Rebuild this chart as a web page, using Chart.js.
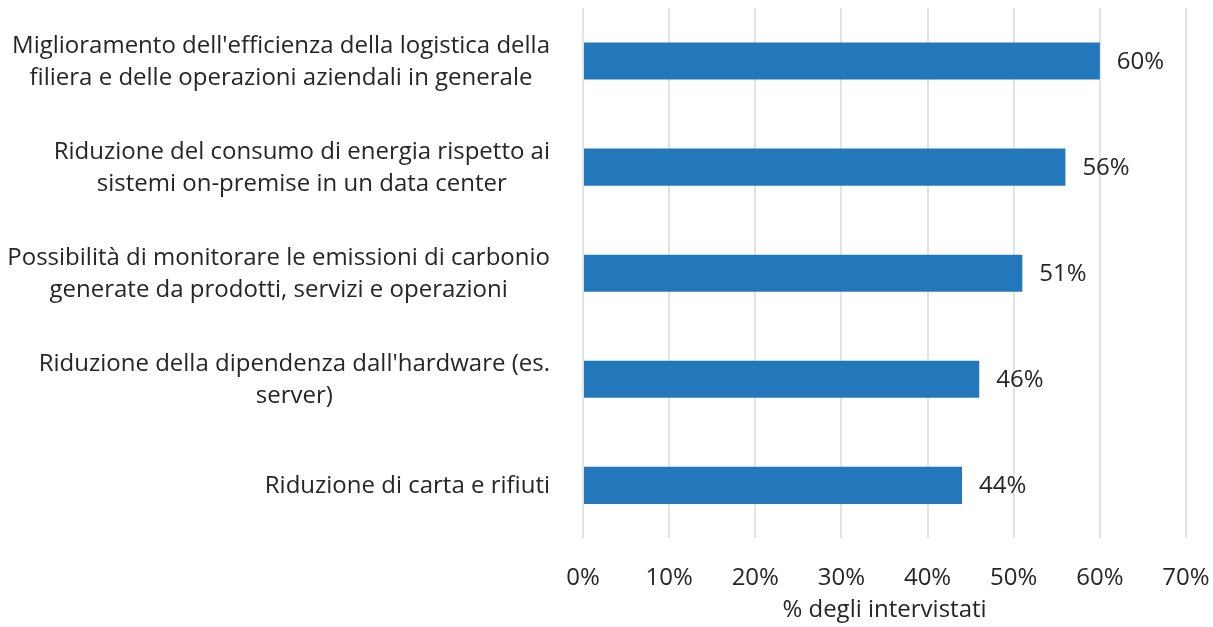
<!DOCTYPE html>
<html>
<head>
<meta charset="utf-8">
<script src="https://cdn.jsdelivr.net/npm/chart.js@4"></script>
<style>
  html, body { margin: 0; padding: 0; background: #ffffff; }
  #wrap { width: 1213px; height: 627px; position: relative; }
</style>
</head>
<body>
<div id="wrap"><canvas id="myChart"></canvas></div>
<script>
// Categories (each one split in lines as in the picture)
const categories = [
    ["Miglioramento dell'efficienza della logistica della", "filiera e delle operazioni aziendali in generale"],
    ["Riduzione del consumo di energia rispetto ai", "sistemi on-premise in un data center"],
    ["Possibilità di monitorare le emissioni di carbonio", "generate da prodotti, servizi e operazioni"],
    ["Riduzione della dipendenza dall'hardware (es.", "server)"],
    ["Riduzione di carta e rifiuti"]
];
// Share of respondents, %
const values = [60, 56, 51, 46, 44];
const tickValues = [0, 10, 20, 30, 40, 50, 60, 70];
const axisTitle = '% degli intervistati';

const FONT = "'Open Sans', sans-serif";
const TEXT = '#262626';
const SIZE = 24;

// Draw the category labels: centered lines, block right-aligned to the axis
const categoryLabels = {
    id: 'categoryLabels',
    afterDraw(chart) {
        const ctx = chart.ctx;
        const yScale = chart.scales.y;
        const right = chart.chartArea.left - 33;
        const lh = 32;
        ctx.save();
        ctx.font = SIZE + 'px ' + FONT;
        ctx.fillStyle = TEXT;
        ctx.textAlign = 'center';
        ctx.textBaseline = 'middle';
        categories.forEach(function(lines, i) {
            const y = yScale.getPixelForValue(i);
            const w = Math.max.apply(null, lines.map(l => ctx.measureText(l).width));
            const cx = right - w / 2;
            const top = y - (lines.length - 1) * lh / 2 + 1;
            lines.forEach(function(l, j) {
                ctx.fillText(l, cx, top + j * lh);
            });
        });
        ctx.restore();
    }
};

// Value labels at the end of each bar
const valueLabels = {
    id: 'valueLabels',
    afterDatasetsDraw(chart) {
        const ctx = chart.ctx;
        const meta = chart.getDatasetMeta(0);
        ctx.save();
        ctx.font = SIZE + 'px ' + FONT;
        ctx.fillStyle = TEXT;
        ctx.textAlign = 'left';
        ctx.textBaseline = 'middle';
        meta.data.forEach(function(bar, i) {
            ctx.fillText(values[i] + '%', bar.x + 17, bar.y + 1);
        });
        ctx.restore();
    }
};

const data = {
    labels: categories.map(c => c.join(' ')),
    datasets: [{
        data: values,
        backgroundColor: '#2378bb',
        borderWidth: 0,
        barPercentage: 0.35,
        categoryPercentage: 1.0
    }]
};

const config = {
    type: 'bar',
    data,
    options: {
        indexAxis: 'y',
        responsive: true,
        maintainAspectRatio: false,
        animation: false,
        layout: { padding: { top: 8, right: 0, bottom: 2, left: 0 } },
        plugins: {
            legend: { display: false },
            tooltip: { enabled: false }
        },
        scales: {
            x: {
                min: 0,
                max: 70,
                afterBuildTicks(scale) {
                    scale.ticks = tickValues.map(v => ({ value: v }));
                },
                afterFit(scale) {
                    scale.paddingRight = 27;
                    scale.height -= 22;
                },
                grid: { color: '#e3e3e3', lineWidth: 2, drawTicks: false },
                border: { display: false },
                ticks: {
                    padding: 25,
                    color: TEXT,
                    font: { family: FONT, size: SIZE },
                    callback: v => v + '%'
                },
                title: {
                    display: true,
                    text: axisTitle,
                    color: TEXT,
                    font: { family: FONT, size: SIZE },
                    padding: { top: 1, bottom: 0 }
                }
            },
            y: {
                grid: { display: false, drawTicks: false },
                border: { display: false },
                ticks: { display: false },
                afterFit(scale) { scale.width = 583; }
            }
        }
    },
    plugins: [categoryLabels, valueLabels]
};

const myChart = new Chart(document.getElementById('myChart'), config);
</script>
</body>
</html>
